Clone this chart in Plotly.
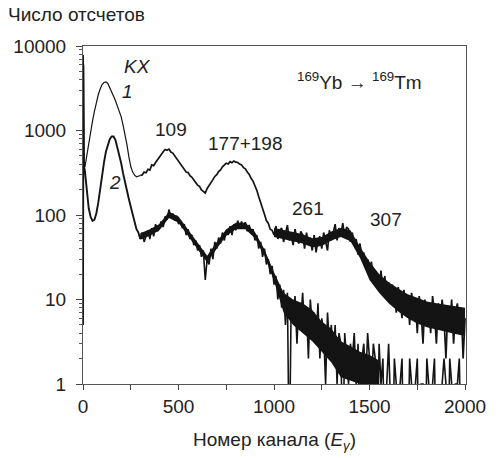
import plotly.graph_objects as go

# Channel grid: first three channels (start spike), then every 10 channels
CHANNELS = [0, 2, 5] + list(range(10, 2001, 10))

# Curve 1 counts
COUNTS_1 = [5, 7800, 420,
    370, 520, 740, 960, 1300, 1700, 2150, 2650, 3100, 3500,
    3700, 3760, 3600, 3250, 2950, 2550, 2250, 1950, 1700, 1450,
    1150, 900, 680, 490, 375, 322, 296, 283, 288, 293,
    298, 322, 316, 348, 340, 392, 384, 418, 452, 488,
    532, 560, 596, 584, 602, 556, 540, 500, 478, 438,
    408, 370, 352, 322, 318, 292, 280, 258, 244, 226,
    218, 198, 190, 182, 206, 226, 248, 262, 286, 300,
    326, 342, 372, 388, 410, 402, 428, 416, 436, 422,
    418, 400, 392, 364, 352, 322, 302, 272, 252, 222,
    196, 164, 142, 118, 102, 86, 80, 68, 66, 58,
    74, 52, 66, 70, 48, 60, 76, 50, 58, 44,
    68, 52, 46, 64, 58, 40, 62, 44, 54, 38,
    58, 36, 50, 56, 40, 62, 46, 38, 66, 50,
    62, 78, 50, 70, 58, 80, 54, 72, 68, 48,
    62, 44, 52, 34, 46, 32, 36, 24, 30, 21,
    28, 16, 22, 18, 13, 22, 12, 19, 10, 16,
    9, 15, 12, 7, 14, 10, 6, 13, 8, 11,
    5, 12, 8, 10, 4, 11, 7, 3, 10, 6,
    9, 4, 11, 7, 3, 9, 5, 10, 6, 2,
    8, 5, 10, 3, 7, 9, 4, 8, 2, 6]

# Curve 2 counts
COUNTS_2 = [5, 6000, 380,
    330, 190, 120, 95, 85, 88, 105, 140, 210, 300,
    420, 560, 690, 790, 850, 850, 770, 640, 520, 410,
    310, 240, 190, 155, 125, 100, 86, 68, 62, 52,
    62, 48, 58, 66, 52, 70, 56, 78, 64, 72,
    84, 72, 96, 88, 116, 94, 104, 86, 98, 78,
    86, 70, 78, 58, 68, 52, 58, 44, 50, 38,
    44, 32, 38, 17, 30, 26, 40, 30, 48, 40,
    54, 46, 62, 50, 66, 58, 74, 58, 78, 66,
    86, 70, 84, 72, 82, 64, 76, 62, 68, 50,
    58, 40, 48, 32, 40, 26, 30, 20, 25, 15,
    19, 10, 15, 8, 13, 5, 12, 0, 10, 6,
    11, 3, 9, 6, 12, 4, 8, 2, 10, 5,
    7, 3, 9, 2, 6, 4, 1, 7, 3, 5,
    2, 5, 1, 4, 3, 0, 4, 2, 1, 3,
    2, 4, 1, 3, 0, 2, 3, 1, 4, 2,
    1, 3, 2, 0, 3, 1, 2, 0, 1, 3,
    1, 0, 2, 1, 0, 1, 2, 0, 1, 0,
    2, 1, 0, 1, 2, 0, 1, 1, 0, 2,
    1, 0, 1, 2, 0, 1, 0, 1, 2, 1,
    0, 2, 1, 0, 1, 1, 2, 0, 1, 0]

# Dense-noise spread (low / high edges of the solid band)
BAND1_CH = [1000, 1050, 1100, 1150, 1200, 1250, 1300, 1350, 1400, 1450, 1500,
            1550, 1600, 1650, 1700, 1750, 1800, 1850, 1900, 1950, 2000]
BAND1_LO = [55, 52, 49.5, 46, 41.5, 43, 50, 55, 49, 31, 17,
            12, 9.0, 7.2, 6.0, 5.2, 4.7, 4.4, 4.1, 3.9, 3.7]
BAND1_HI = [70, 67, 63, 59, 53, 55, 64, 70, 66, 42, 28,
            20, 16, 13.5, 11.5, 10.5, 9.5, 9.0, 8.6, 8.3, 8.0]

BAND2_CH = [300, 350, 400, 450, 500, 550, 600, 650, 700, 750, 800, 850, 900,
            950, 1000, 1050, 1100, 1150, 1200, 1250, 1300, 1350, 1400, 1450,
            1500, 1550]
BAND2_LO = [51, 57, 66, 92, 81, 57, 40, 27.5, 40, 57, 68, 68, 53,
            33, 16.5, 7.0, 5.0, 4.0, 3.2, 2.4, 1.8, 1.2, 1.1, 1.0,
            1.0, 1.0]
BAND2_HI = [61, 68, 78, 109, 96, 68, 48, 33, 48, 68, 81, 81, 63,
            39, 21, 12, 10, 9, 7.5, 5.5, 4.5, 3.2, 2.8, 2.4,
            2.2, 1.9]

Y_TICKS = [1, 10, 100, 1000, 10000]
Y_TICK_LABELS = ["1", "10", "100", "1000", "10000"]
X_TICKS = [0, 500, 1000, 1500, 2000]

FLOOR = 0.1  # zero counts drawn below the axis (clipped)
NOISY_FROM = 300  # channel where the curves become noisy (drawn a bit differently)


def for_log(vals):
    return [v if v > 0 else FLOOR for v in vals]


FONT = "Liberation Sans, Arial, sans-serif"
INK = "#141414"
TXT = "#222"

k = CHANNELS.index(NOISY_FROM)
y1 = for_log(COUNTS_1)
y2 = for_log(COUNTS_2)

fig = go.Figure()
for ch, lo, hi in [(BAND1_CH, BAND1_LO, BAND1_HI), (BAND2_CH, BAND2_LO, BAND2_HI)]:
    fig.add_trace(go.Scatter(x=ch, y=lo, mode="lines", line=dict(width=0, color=INK),
                             showlegend=False, hoverinfo="skip"))
    fig.add_trace(go.Scatter(x=ch, y=hi, mode="lines", line=dict(width=0, color=INK),
                             fill="tonexty", fillcolor=INK, showlegend=False, hoverinfo="skip"))
fig.add_trace(go.Scatter(x=CHANNELS[:k + 1], y=y1[:k + 1], mode="lines",
                         line=dict(color=INK, width=1.2), showlegend=False))
fig.add_trace(go.Scatter(x=CHANNELS[k:], y=y1[k:], mode="lines",
                         line=dict(color=INK, width=1.7), showlegend=False))
fig.add_trace(go.Scatter(x=CHANNELS[:k + 1], y=y2[:k + 1], mode="lines",
                         line=dict(color=INK, width=1.9), showlegend=False))
fig.add_trace(go.Scatter(x=CHANNELS[k:], y=y2[k:], mode="lines",
                         line=dict(color=INK, width=1.6), showlegend=False))

minor_y = [m * 10 ** e for e in range(0, 4) for m in range(2, 10)]

fig.update_layout(
    width=498, height=458,
    margin=dict(l=83, r=26, t=46, b=74),
    paper_bgcolor="white", plot_bgcolor="white",
    font=dict(family=FONT, size=19, color=TXT),
    xaxis=dict(range=[0, 2005], tickvals=X_TICKS, ticks="outside", ticklen=5,
               tickcolor="#444", showgrid=False, zeroline=False,
               showline=True, linecolor="#555", linewidth=1, mirror=True,
               minor=dict(dtick=250, tick0=0, ticks="outside", ticklen=5,
                          tickcolor="#444", showgrid=False),
               tickfont=dict(family=FONT, size=19, color=TXT)),
    yaxis=dict(type="log", range=[0, 4], tickvals=Y_TICKS, ticktext=Y_TICK_LABELS,
               ticks="outside", ticklen=6, tickcolor="#444", showgrid=False, zeroline=False,
               showline=True, linecolor="#555", linewidth=1, mirror=True,
               ticklabelstandoff=6,
               minor=dict(tickvals=minor_y, ticks="outside", ticklen=3,
                          tickcolor="#555", showgrid=False),
               tickfont=dict(family=FONT, size=19, color=TXT)),
)

ann = []
ann.append(dict(text="Число отсчетов", xref="paper", yref="paper", x=-0.2005, y=1.092,
                xanchor="left", yanchor="middle", showarrow=False,
                font=dict(family=FONT, size=19, color=TXT)))
ann.append(dict(text="Номер канала (<i>E</i><sub><i>γ</i></sub>)", xref="paper", yref="paper",
                x=0.4987, y=-0.169, xanchor="center", yanchor="middle", showarrow=False,
                font=dict(family=FONT, size=19, color=TXT)))
labels = [
    ("<i>KX</i>", 283, 3.76),
    ("<i>1</i>", 232, 3.46),
    ("<i>2</i>", 165, 2.38),
    ("109", 459, 3.01),
    ("177+198", 850, 2.85),
    ("261", 1180, 2.08),
    ("307", 1588, 1.95),
    ("<sup>169</sup>Yb → <sup>169</sup>Tm", 1448, 3.59),
]
for t, x, y in labels:
    ann.append(dict(text=t, x=x, y=y, xref="x", yref="y", showarrow=False,
                    xanchor="center", yanchor="middle",
                    font=dict(family=FONT, size=19, color=TXT)))
fig.update_layout(annotations=ann)

fig.write_html("out.html")
